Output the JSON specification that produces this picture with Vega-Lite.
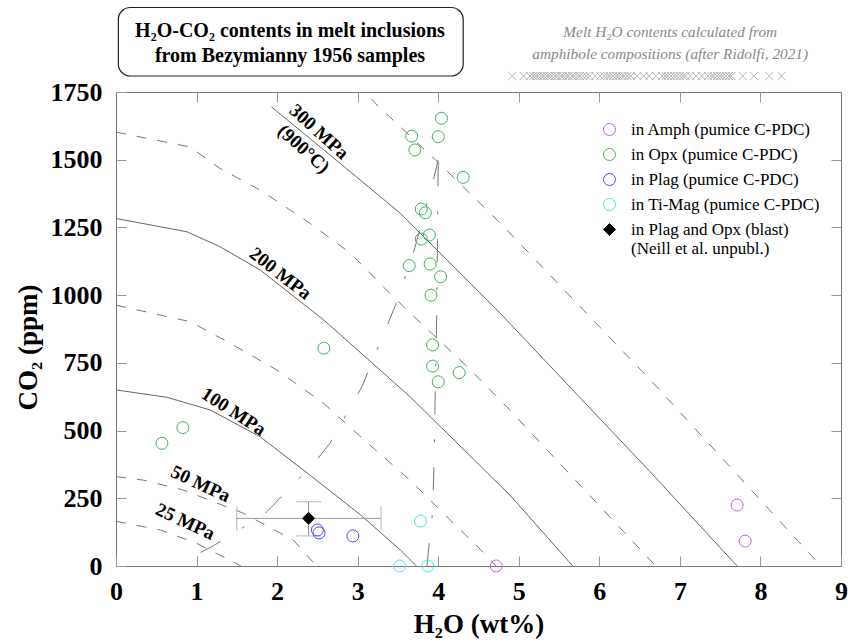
{
  "$schema": "https://vega.github.io/schema/vega-lite/v6.json",
  "width": 725,
  "height": 474,
  "autosize": {"type": "none"},
  "padding": {"left": 116, "top": 92, "right": 7, "bottom": 76},
  "background": "white",
  "config": {
    "view": {"stroke": "#777777", "strokeWidth": 1},
    "font": "Liberation Serif",
    "text": {"font": "Liberation Serif"},
    "legend": {"orient": "none", "legendX": 485, "legendY": 29, "title": null,
      "symbolSize": 144, "symbolStrokeWidth": 1, "rowPadding": 7, "labelOffset": 13, "labelLimit": 0,
      "labelFont": "Liberation Serif", "labelFontSize": 17}
  },
  "data": {"values": [{}]},
  "datasets": {
    "solid": [
      {"p": 100, "h2o": 0, "co2": 650}, {"p": 100, "h2o": 0.63, "co2": 623}, {"p": 100, "h2o": 1.17, "co2": 576}, {"p": 100, "h2o": 1.79, "co2": 477}, {"p": 100, "h2o": 2.41, "co2": 335}, {"p": 100, "h2o": 3.03, "co2": 190}, {"p": 100, "h2o": 3.53, "co2": 59}, {"p": 100, "h2o": 3.73, "co2": 0},
      {"p": 200, "h2o": 0, "co2": 1283}, {"p": 200, "h2o": 0.88, "co2": 1234}, {"p": 200, "h2o": 1.29, "co2": 1179}, {"p": 200, "h2o": 1.79, "co2": 1093}, {"p": 200, "h2o": 2.58, "co2": 908}, {"p": 200, "h2o": 3.28, "co2": 723}, {"p": 200, "h2o": 3.65, "co2": 625}, {"p": 200, "h2o": 4.89, "co2": 262}, {"p": 200, "h2o": 5.67, "co2": 0},
      {"p": 300, "h2o": 1.93, "co2": 1695}, {"p": 300, "h2o": 2.85, "co2": 1470}, {"p": 300, "h2o": 3.53, "co2": 1302}, {"p": 300, "h2o": 4.77, "co2": 933}, {"p": 300, "h2o": 6.63, "co2": 348}, {"p": 300, "h2o": 7.71, "co2": 0}
    ],
    "dashed": [
      {"p": 25, "h2o": 0, "co2": 165}, {"p": 25, "h2o": 0.55, "co2": 133}, {"p": 25, "h2o": 1.0, "co2": 84}, {"p": 25, "h2o": 1.45, "co2": 16}, {"p": 25, "h2o": 1.55, "co2": 0},
      {"p": 50, "h2o": 0, "co2": 330}, {"p": 50, "h2o": 0.34, "co2": 317}, {"p": 50, "h2o": 0.83, "co2": 281}, {"p": 50, "h2o": 1.58, "co2": 195}, {"p": 50, "h2o": 2.2, "co2": 96}, {"p": 50, "h2o": 2.49, "co2": 0},
      {"p": 150, "h2o": 0, "co2": 963}, {"p": 150, "h2o": 0.92, "co2": 902}, {"p": 150, "h2o": 1.42, "co2": 822}, {"p": 150, "h2o": 2.0, "co2": 723}, {"p": 150, "h2o": 2.58, "co2": 600}, {"p": 150, "h2o": 3.1, "co2": 460}, {"p": 150, "h2o": 3.65, "co2": 317}, {"p": 150, "h2o": 4.2, "co2": 155}, {"p": 150, "h2o": 4.52, "co2": 62}, {"p": 150, "h2o": 4.72, "co2": 0},
      {"p": 250, "h2o": 0, "co2": 1602}, {"p": 250, "h2o": 0.92, "co2": 1547}, {"p": 250, "h2o": 1.29, "co2": 1468}, {"p": 250, "h2o": 1.79, "co2": 1388}, {"p": 250, "h2o": 2.41, "co2": 1265}, {"p": 250, "h2o": 2.91, "co2": 1155}, {"p": 250, "h2o": 3.32, "co2": 1030}, {"p": 250, "h2o": 3.57, "co2": 957}, {"p": 250, "h2o": 4.36, "co2": 736}, {"p": 250, "h2o": 4.85, "co2": 588}, {"p": 250, "h2o": 5.8, "co2": 286}, {"p": 250, "h2o": 6.7, "co2": 0},
      {"p": 350, "h2o": 3.17, "co2": 1725}, {"p": 350, "h2o": 3.24, "co2": 1702}, {"p": 350, "h2o": 4.0, "co2": 1490}, {"p": 350, "h2o": 4.77, "co2": 1266}, {"p": 350, "h2o": 6.63, "co2": 688}, {"p": 350, "h2o": 7.83, "co2": 299}, {"p": 350, "h2o": 8.75, "co2": 0}
    ],
    "isopleths": [
      {"k": "a", "h2o": 1.05, "co2": 50}, {"k": "a", "h2o": 1.21, "co2": 75}, {"k": "a", "h2o": 1.84, "co2": 190}, {"k": "a", "h2o": 2.49, "co2": 391}, {"k": "a", "h2o": 2.66, "co2": 455}, {"k": "a", "h2o": 3.05, "co2": 660}, {"k": "a", "h2o": 3.47, "co2": 963}, {"k": "a", "h2o": 3.69, "co2": 1154}, {"k": "a", "h2o": 3.94, "co2": 1425}, {"k": "a", "h2o": 4.0, "co2": 1499},
      {"k": "b", "h2o": 3.86, "co2": 0}, {"k": "b", "h2o": 3.88, "co2": 59}, {"k": "b", "h2o": 3.93, "co2": 200}, {"k": "b", "h2o": 3.95, "co2": 400}, {"k": "b", "h2o": 3.96, "co2": 600}, {"k": "b", "h2o": 3.98, "co2": 900}, {"k": "b", "h2o": 3.99, "co2": 1180}, {"k": "b", "h2o": 4.0, "co2": 1499}
    ],
    "points": [
      {"g": "Opx", "h2o": 4.04, "co2": 1653}, {"g": "Opx", "h2o": 3.67, "co2": 1587}, {"g": "Opx", "h2o": 4.0, "co2": 1585}, {"g": "Opx", "h2o": 3.71, "co2": 1536}, {"g": "Opx", "h2o": 4.31, "co2": 1435},
      {"g": "Opx", "h2o": 3.79, "co2": 1318}, {"g": "Opx", "h2o": 3.84, "co2": 1304}, {"g": "Opx", "h2o": 3.89, "co2": 1222}, {"g": "Opx", "h2o": 3.79, "co2": 1207}, {"g": "Opx", "h2o": 3.64, "co2": 1109},
      {"g": "Opx", "h2o": 3.9, "co2": 1115}, {"g": "Opx", "h2o": 4.03, "co2": 1068}, {"g": "Opx", "h2o": 3.91, "co2": 1000}, {"g": "Opx", "h2o": 3.93, "co2": 816}, {"g": "Opx", "h2o": 3.93, "co2": 738},
      {"g": "Opx", "h2o": 4.26, "co2": 714}, {"g": "Opx", "h2o": 4.0, "co2": 680}, {"g": "Opx", "h2o": 2.58, "co2": 804}, {"g": "Opx", "h2o": 0.83, "co2": 511}, {"g": "Opx", "h2o": 0.57, "co2": 453},
      {"g": "Plag", "h2o": 2.5, "co2": 133}, {"g": "Plag", "h2o": 2.52, "co2": 122}, {"g": "Plag", "h2o": 2.94, "co2": 111},
      {"g": "TiMag", "h2o": 3.78, "co2": 166}, {"g": "TiMag", "h2o": 3.52, "co2": 0}, {"g": "TiMag", "h2o": 3.87, "co2": 0},
      {"g": "Amph", "h2o": 4.72, "co2": 0}, {"g": "Amph", "h2o": 7.71, "co2": 225}, {"g": "Amph", "h2o": 7.81, "co2": 92},
      {"g": "blast", "h2o": 2.39, "co2": 176}
    ],
    "blasterr": [
      {"h2o": 2.39, "co2": 176, "h2oLo": 1.5, "h2oHi": 3.29, "co2Lo": 111, "co2Hi": 237}
    ],
    "amphH2O": [
      {"h2o": 4.92}, {"h2o": 5.06}, {"h2o": 5.14}, {"h2o": 5.18}, {"h2o": 5.21}, {"h2o": 5.24}, {"h2o": 5.28}, {"h2o": 5.31}, {"h2o": 5.35}, {"h2o": 5.38}, {"h2o": 5.41}, {"h2o": 5.45}, {"h2o": 5.48}, {"h2o": 5.52}, {"h2o": 5.55}, {"h2o": 5.59}, {"h2o": 5.62}, {"h2o": 5.66}, {"h2o": 5.69}, {"h2o": 5.73}, {"h2o": 5.76}, {"h2o": 5.8}, {"h2o": 5.84}, {"h2o": 5.88},
      {"h2o": 5.95}, {"h2o": 6.01},
      {"h2o": 6.06}, {"h2o": 6.1}, {"h2o": 6.13}, {"h2o": 6.17}, {"h2o": 6.21}, {"h2o": 6.24}, {"h2o": 6.28}, {"h2o": 6.31}, {"h2o": 6.35}, {"h2o": 6.39},
      {"h2o": 6.47}, {"h2o": 6.55}, {"h2o": 6.62}, {"h2o": 6.7},
      {"h2o": 6.78}, {"h2o": 6.82}, {"h2o": 6.85}, {"h2o": 6.89}, {"h2o": 6.93}, {"h2o": 6.96}, {"h2o": 7.0}, {"h2o": 7.04}, {"h2o": 7.07},
      {"h2o": 7.13}, {"h2o": 7.2}, {"h2o": 7.27},
      {"h2o": 7.35}, {"h2o": 7.39}, {"h2o": 7.42}, {"h2o": 7.46}, {"h2o": 7.5}, {"h2o": 7.53}, {"h2o": 7.57}, {"h2o": 7.61}, {"h2o": 7.64},
      {"h2o": 7.78}, {"h2o": 7.92}, {"h2o": 8.11}, {"h2o": 8.26}
    ]
  },
  "resolve": {"axis": {"x": "independent", "y": "independent"}},
  "layer": [
    {
      "data": {"name": "solid"},
      "mark": {"type": "line", "color": "#666666", "strokeWidth": 1},
      "encoding": {
        "x": {"field": "h2o", "type": "quantitative",
          "scale": {"domain": [0, 9], "nice": false, "zero": false},
          "axis": {"orient": "bottom", "values": [0, 1, 2, 3, 4, 5, 6, 7, 8, 9], "format": "d", "title": "H₂O (wt%)",
            "domain": false, "grid": false, "tickSize": -10, "tickColor": "#999999", "tickWidth": 1,
            "labelPadding": 22, "labelFont": "Liberation Serif", "labelFontSize": 26, "labelFontWeight": "bold", "labelColor": "#000000",
            "labelFlush": false, "labelOverlap": false,
            "titleFont": "Liberation Serif", "titleFontSize": 27, "titleFontWeight": "bold", "titleColor": "#000000", "titlePadding": 7}},
        "y": {"field": "co2", "type": "quantitative",
          "scale": {"domain": [0, 1750], "nice": false, "zero": false},
          "axis": {"orient": "left", "values": [0, 250, 500, 750, 1000, 1250, 1500, 1750], "format": "d", "title": "CO₂ (ppm)",
            "domain": false, "grid": false, "tickSize": -10, "tickColor": "#999999", "tickWidth": 1,
            "labelPadding": 24, "labelFont": "Liberation Serif", "labelFontSize": 26, "labelFontWeight": "bold", "labelColor": "#000000",
            "labelFlush": false, "labelOverlap": false,
            "titleFont": "Liberation Serif", "titleFontSize": 27, "titleFontWeight": "bold", "titleColor": "#000000", "titlePadding": 8, "titleY": 255}},
        "detail": {"field": "p", "type": "nominal"}
      }
    },
    {
      "data": {"name": "dashed"},
      "mark": {"type": "line", "color": "#777777", "strokeWidth": 1, "strokeDash": [10, 11]},
      "encoding": {
        "x": {"field": "h2o", "type": "quantitative",
          "axis": {"orient": "top", "values": [1, 2, 3, 4, 5, 6, 7, 8], "labels": false, "title": null, "domain": false, "grid": false, "tickSize": -10, "tickColor": "#999999"}},
        "y": {"field": "co2", "type": "quantitative",
          "axis": {"orient": "right", "values": [250, 500, 750, 1000, 1250, 1500], "labels": false, "title": null, "domain": false, "grid": false, "tickSize": -10, "tickColor": "#999999"}},
        "detail": {"field": "p", "type": "nominal"}
      }
    },
    {
      "data": {"name": "isopleths"},
      "mark": {"type": "line", "color": "#777777", "strokeWidth": 1, "strokeDash": [23, 25, 3, 25]},
      "encoding": {
        "x": {"field": "h2o", "type": "quantitative", "axis": null},
        "y": {"field": "co2", "type": "quantitative", "axis": null},
        "detail": {"field": "k", "type": "nominal"}
      }
    },
    {
      "data": {"name": "blasterr"},
      "mark": {"type": "rule", "color": "#999999", "strokeWidth": 1},
      "encoding": {
        "x": {"field": "h2oLo", "type": "quantitative", "axis": null},
        "x2": {"field": "h2oHi"},
        "y": {"field": "co2", "type": "quantitative", "axis": null}
      }
    },
    {
      "data": {"name": "blasterr"},
      "mark": {"type": "rule", "color": "#999999", "strokeWidth": 1},
      "encoding": {
        "x": {"field": "h2o", "type": "quantitative", "axis": null},
        "y": {"field": "co2Lo", "type": "quantitative", "axis": null},
        "y2": {"field": "co2Hi"}
      }
    },
    {
      "data": {"name": "blasterr"},
      "mark": {"type": "tick", "orient": "vertical", "color": "#999999", "size": 25, "thickness": 1},
      "encoding": {
        "x": {"field": "h2oLo", "type": "quantitative", "axis": null},
        "y": {"field": "co2", "type": "quantitative", "axis": null}
      }
    },
    {
      "data": {"name": "blasterr"},
      "mark": {"type": "tick", "orient": "vertical", "color": "#999999", "size": 25, "thickness": 1},
      "encoding": {
        "x": {"field": "h2oHi", "type": "quantitative", "axis": null},
        "y": {"field": "co2", "type": "quantitative", "axis": null}
      }
    },
    {
      "data": {"name": "blasterr"},
      "mark": {"type": "tick", "orient": "horizontal", "color": "#999999", "size": 25, "thickness": 1},
      "encoding": {
        "x": {"field": "h2o", "type": "quantitative", "axis": null},
        "y": {"field": "co2Lo", "type": "quantitative", "axis": null}
      }
    },
    {
      "data": {"name": "blasterr"},
      "mark": {"type": "tick", "orient": "horizontal", "color": "#999999", "size": 25, "thickness": 1},
      "encoding": {
        "x": {"field": "h2o", "type": "quantitative", "axis": null},
        "y": {"field": "co2Hi", "type": "quantitative", "axis": null}
      }
    },
    {
      "data": {"name": "points"},
      "mark": {"type": "point", "size": 144, "strokeWidth": 1, "opacity": 1},
      "encoding": {
        "x": {"field": "h2o", "type": "quantitative", "axis": null},
        "y": {"field": "co2", "type": "quantitative", "axis": null},
        "stroke": {"field": "g", "type": "nominal",
          "scale": {"domain": ["Amph", "Opx", "Plag", "TiMag", "blast"], "range": ["#c060e0", "#3db35c", "#4a4aff", "#45e8e8", "#000000"]},
          "legend": {
            "labelExpr": "datum.value === 'Amph' ? 'in Amph (pumice C-PDC)' : datum.value === 'Opx' ? 'in Opx (pumice C-PDC)' : datum.value === 'Plag' ? 'in Plag (pumice C-PDC)' : datum.value === 'TiMag' ? 'in Ti-Mag (pumice C-PDC)' : ['in Plag and Opx (blast)', '(Neill et al. unpubl.)']",
            "encode": {"labels": {"update": {
              "fill": [
                {"test": "datum.value === 'Amph'", "value": "#a42ad6"},
                {"test": "datum.value === 'Opx'", "value": "#1f9a3e"},
                {"test": "datum.value === 'Plag'", "value": "#1a1ae6"},
                {"value": "#000000"}],
              "dy": [{"test": "datum.value === 'blast'", "value": -9}, {"value": 0}],
              "lineHeight": {"value": 18}}}}}},
        "fill": {"field": "g", "type": "nominal",
          "scale": {"domain": ["Amph", "Opx", "Plag", "TiMag", "blast"], "range": ["transparent", "transparent", "transparent", "transparent", "#000000"]},
          "legend": {
            "labelExpr": "datum.value === 'Amph' ? 'in Amph (pumice C-PDC)' : datum.value === 'Opx' ? 'in Opx (pumice C-PDC)' : datum.value === 'Plag' ? 'in Plag (pumice C-PDC)' : datum.value === 'TiMag' ? 'in Ti-Mag (pumice C-PDC)' : ['in Plag and Opx (blast)', '(Neill et al. unpubl.)']",
            "encode": {"labels": {"update": {
              "fill": [
                {"test": "datum.value === 'Amph'", "value": "#a42ad6"},
                {"test": "datum.value === 'Opx'", "value": "#1f9a3e"},
                {"test": "datum.value === 'Plag'", "value": "#1a1ae6"},
                {"value": "#000000"}],
              "dy": [{"test": "datum.value === 'blast'", "value": -9}, {"value": 0}],
              "lineHeight": {"value": 18}}}}}},
        "shape": {"field": "g", "type": "nominal",
          "scale": {"domain": ["Amph", "Opx", "Plag", "TiMag", "blast"], "range": ["circle", "circle", "circle", "circle", "diamond"]},
          "legend": {
            "labelExpr": "datum.value === 'Amph' ? 'in Amph (pumice C-PDC)' : datum.value === 'Opx' ? 'in Opx (pumice C-PDC)' : datum.value === 'Plag' ? 'in Plag (pumice C-PDC)' : datum.value === 'TiMag' ? 'in Ti-Mag (pumice C-PDC)' : ['in Plag and Opx (blast)', '(Neill et al. unpubl.)']",
            "encode": {"labels": {"update": {
              "fill": [
                {"test": "datum.value === 'Amph'", "value": "#a42ad6"},
                {"test": "datum.value === 'Opx'", "value": "#1f9a3e"},
                {"test": "datum.value === 'Plag'", "value": "#1a1ae6"},
                {"value": "#000000"}],
              "dy": [{"test": "datum.value === 'blast'", "value": -9}, {"value": 0}],
              "lineHeight": {"value": 18}}}}}}
      }
    },
    {
      "data": {"name": "amphH2O"},
      "mark": {"type": "point", "shape": "M-1,-1L1,1M1,-1L-1,1", "size": 64, "stroke": "#999999", "strokeWidth": 1, "filled": false, "clip": false},
      "encoding": {
        "x": {"field": "h2o", "type": "quantitative", "axis": null},
        "y": {"datum": 1809, "type": "quantitative", "axis": null}
      }
    },
    {
      "mark": {"type": "rect", "fill": "white", "stroke": "#222222", "strokeWidth": 1.2, "cornerRadius": 12, "clip": false},
      "encoding": {
        "x": {"datum": 0.029, "type": "quantitative", "axis": null},
        "x2": {"datum": 4.31},
        "y": {"datum": 2062, "type": "quantitative", "axis": null},
        "y2": {"datum": 1809}
      }
    },
    {
      "mark": {"type": "text", "text": ["H₂O-CO₂ contents in melt inclusions", "from Bezymianny 1956 samples"], "font": "Liberation Serif", "fontSize": 20, "fontWeight": "bold", "color": "#000000", "align": "center", "baseline": "middle", "lineHeight": 25},
      "encoding": {
        "x": {"datum": 2.16, "type": "quantitative", "axis": null},
        "y": {"datum": 1975, "type": "quantitative", "axis": null}
      }
    },
    {
      "mark": {"type": "text", "text": ["Melt H₂O contents calculated from", "amphibole compositions (after Ridolfi, 2021)"], "font": "Liberation Serif", "fontSize": 15.3, "fontStyle": "italic", "color": "#888888", "align": "center", "baseline": "middle", "lineHeight": 22},
      "encoding": {
        "x": {"datum": 6.88, "type": "quantitative", "axis": null},
        "y": {"datum": 1971, "type": "quantitative", "axis": null}
      }
    },
    {
      "mark": {"type": "text", "text": ["300 MPa", "(900°C)"], "font": "Liberation Serif", "fontSize": 19, "fontWeight": "bold", "color": "#000000", "align": "center", "baseline": "middle", "lineHeight": 23, "angle": 42},
      "encoding": {
        "x": {"datum": 2.52, "type": "quantitative", "axis": null},
        "y": {"datum": 1603, "type": "quantitative", "axis": null}
      }
    },
    {
      "mark": {"type": "text", "text": "200 MPa", "font": "Liberation Serif", "fontSize": 19, "fontWeight": "bold", "color": "#000000", "align": "center", "baseline": "middle", "angle": 38},
      "encoding": {
        "x": {"datum": 2.04, "type": "quantitative", "axis": null},
        "y": {"datum": 1080, "type": "quantitative", "axis": null}
      }
    },
    {
      "mark": {"type": "text", "text": "100 MPa", "font": "Liberation Serif", "fontSize": 19, "fontWeight": "bold", "color": "#000000", "align": "center", "baseline": "middle", "angle": 33},
      "encoding": {
        "x": {"datum": 1.46, "type": "quantitative", "axis": null},
        "y": {"datum": 570, "type": "quantitative", "axis": null}
      }
    },
    {
      "mark": {"type": "text", "text": "50 MPa", "font": "Liberation Serif", "fontSize": 19, "fontWeight": "bold", "color": "#000000", "align": "center", "baseline": "middle", "angle": 25},
      "encoding": {
        "x": {"datum": 1.05, "type": "quantitative", "axis": null},
        "y": {"datum": 303, "type": "quantitative", "axis": null}
      }
    },
    {
      "mark": {"type": "text", "text": "25 MPa", "font": "Liberation Serif", "fontSize": 19, "fontWeight": "bold", "color": "#000000", "align": "center", "baseline": "middle", "angle": 25},
      "encoding": {
        "x": {"datum": 0.86, "type": "quantitative", "axis": null},
        "y": {"datum": 164, "type": "quantitative", "axis": null}
      }
    }
  ]
}
